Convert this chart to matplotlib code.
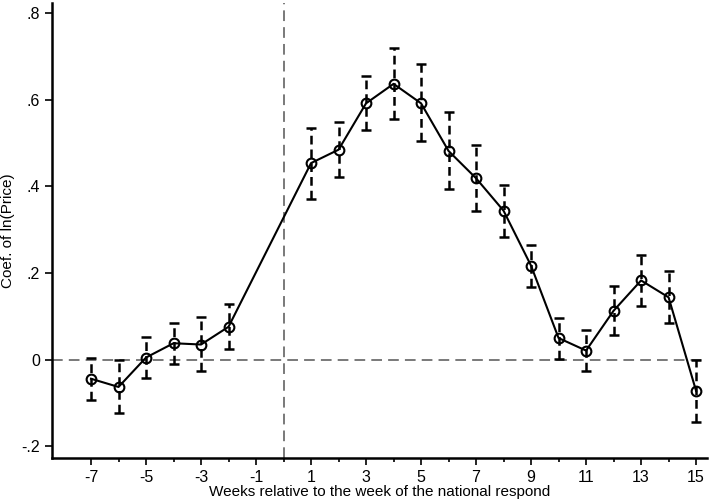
import matplotlib
matplotlib.use("Agg")
import matplotlib.pyplot as plt
import numpy as np

plt.rcParams['font.family'] = ['Liberation Sans', 'DejaVu Sans']
plt.rcParams['axes.unicode_minus'] = False

weeks = [-7, -6, -5, -4, -3, -2, 1, 2, 3, 4, 5, 6, 7, 8, 9, 10, 11, 12, 13, 14, 15]
coef = [-0.044, -0.063, 0.005, 0.038, 0.035, 0.076, 0.454, 0.485, 0.592, 0.637,
        0.592, 0.482, 0.419, 0.344, 0.217, 0.050, 0.021, 0.113, 0.183, 0.144, -0.072]
ci_hi = [0.005, 0.000, 0.052, 0.085, 0.098, 0.128, 0.536, 0.549, 0.655, 0.719,
         0.682, 0.571, 0.496, 0.404, 0.264, 0.096, 0.069, 0.171, 0.241, 0.204, 0.000]
ci_lo = [-0.092, -0.123, -0.042, -0.009, -0.025, 0.025, 0.372, 0.421, 0.531, 0.555,
         0.504, 0.395, 0.344, 0.283, 0.167, 0.002, -0.027, 0.056, 0.125, 0.085, -0.144]
xticks = [-7, -5, -3, -1, 1, 3, 5, 7, 9, 11, 13, 15]
yticks = [-0.2, 0, 0.2, 0.4, 0.6, 0.8]
ytick_labels = ['-.2', '0', '.2', '.4', '.6', '.8']

fig = plt.figure(figsize=(7.09, 5.04), dpi=100)
ax = fig.add_axes([0.0733, 0.0913, 0.924, 0.903])

ax.axhline(0, color='#555555', lw=1.1, ls=(0, (7, 4)), zorder=1)
ax.axvline(0, color='#555555', lw=1.1, ls=(0, (7, 4)), zorder=1)

coef = np.array(coef)
yerr = [coef - np.array(ci_lo), np.array(ci_hi) - coef]
eb = ax.errorbar(weeks, coef, yerr=yerr, fmt='none', ecolor='black',
                 elinewidth=1.8, capsize=3.5, capthick=1.8, zorder=2)
eb[2][0].set_linestyle((0, (3.5, 2)))

ax.plot(weeks, coef, color='black', lw=1.5, marker='o', markersize=7,
        markerfacecolor='none', markeredgewidth=1.5, zorder=3)

ax.set_xlim(-8.42, 15.4)
ax.set_ylim(-0.227, 0.824)
ax.set_xticks(xticks)
ax.set_xticks(range(-7, 16), minor=True)
ax.set_yticks(yticks)
ax.set_yticklabels(ytick_labels)
ax.tick_params(axis='both', which='major', length=5, width=1.2, labelsize=11.5, colors='black')
ax.tick_params(axis='x', which='minor', length=3, width=1.2)
ax.tick_params(axis='x', pad=4)

for s in ['top', 'right']:
    ax.spines[s].set_visible(False)
for s in ['left', 'bottom']:
    ax.spines[s].set_linewidth(1.8)

ax.set_xlabel('Weeks relative to the week of the national respond', fontsize=11, labelpad=0)
ax.set_ylabel('Coef. of ln(Price)', fontsize=11, labelpad=5)

fig.savefig('out.png', dpi=100)
